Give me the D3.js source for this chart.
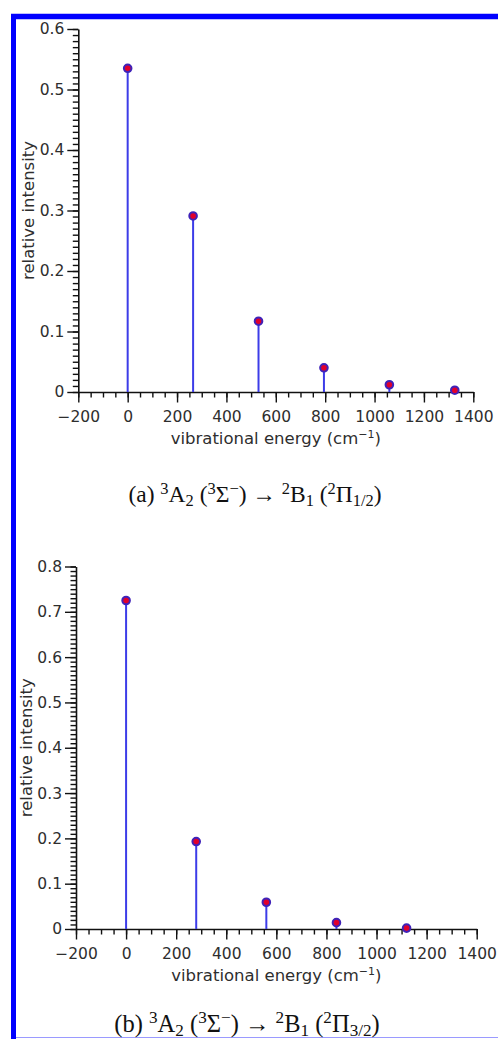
<!DOCTYPE html>
<html>
<head>
<meta charset="utf-8">
<script src="https://cdn.jsdelivr.net/npm/d3@7"></script>
<style>
  html, body { margin: 0; padding: 0; background: #fff; }
  svg { display: block; }
</style>
</head>
<body>
<svg id="chart"></svg>
<script>
const width = 498;
const height = 1039;

// data
const energiesA = [0, 265, 530, 795, 1060, 1325];
const intensA = [0.535, 0.291, 0.117, 0.040, 0.012, 0.003];
const energiesB = [0, 280, 560, 840, 1120];
const intensB = [0.725, 0.193, 0.059, 0.014, 0.002];

const xTicks = [-200, 0, 200, 400, 600, 800, 1000, 1200, 1400];
const yTicksA = [0, 0.1, 0.2, 0.3, 0.4, 0.5, 0.6];
const yTicksB = [0, 0.1, 0.2, 0.3, 0.4, 0.5, 0.6, 0.7, 0.8];

const xTitle = "vibrational energy (cm";
const yTitle = "relative intensity";
// caption pieces: 0 normal, 1 superscript, -1 subscript
const captionA = [["(a) ", 0], ["3", 1], ["A", 0], ["2", -1], [" (", 0], ["3", 1], ["Σ", 0], ["−", 1],
  [") → ", 0], ["2", 1], ["B", 0], ["1", -1], [" (", 0], ["2", 1], ["Π", 0], ["1/2", -1], [")", 0]];
const captionB = [["(b) ", 0], ["3", 1], ["A", 0], ["2", -1], [" (", 0], ["3", 1], ["Σ", 0], ["−", 1],
  [") → ", 0], ["2", 1], ["B", 0], ["1", -1], [" (", 0], ["2", 1], ["Π", 0], ["3/2", -1], [")", 0]];

const svg = d3.select("#chart")
  .attr("width", width)
  .attr("height", height)
  .attr("viewBox", `0 0 ${width} ${height}`);

// blue frame
svg.append("line").attr("x1", 11).attr("x2", width).attr("y1", 16.5).attr("y2", 16.5)
  .attr("stroke", "#0000ff").attr("stroke-width", 5.5);
svg.append("line").attr("x1", 13.5).attr("x2", 13.5).attr("y1", 14).attr("y2", height)
  .attr("stroke", "#0000ff").attr("stroke-width", 5);
svg.append("line").attr("x1", 16).attr("x2", width).attr("y1", 1037.5).attr("y2", 1037.5)
  .attr("stroke", "#9a9aff").attr("stroke-width", 1);

const yFmt = (d) => (d === 0 ? "0" : d3.format(".1f")(d));
const xFmt = d3.format("d");

function range(a, b, step) {
  const out = [];
  const n = Math.round((b - a) / step);
  for (let i = 0; i <= n; i++) out.push(+(a + i * step).toFixed(4));
  return out;
}

function drawPanel(p) {
  const x = d3.scaleLinear().domain([-200, 1400]).range([p.x0, p.x1]);
  const y = d3.scaleLinear().domain([0, p.yMax]).range([p.yBottom, p.yTop]);
  const g = svg.append("g");

  // minor ticks
  g.append("g")
    .attr("transform", `translate(0,${p.yBottom})`)
    .call(d3.axisBottom(x).tickValues(range(-200, 1400, 50)).tickSize(5.5).tickFormat("").tickSizeOuter(0))
    .call((a) => a.select(".domain").remove());
  g.append("g")
    .attr("transform", `translate(${p.x0},0)`)
    .call(d3.axisLeft(y).tickValues(range(0, p.yMax, 0.01)).tickSize(5.5).tickFormat("").tickSizeOuter(0))
    .call((a) => a.select(".domain").remove());

  // major ticks
  const xa = g.append("g")
    .attr("transform", `translate(0,${p.yBottom})`)
    .call(d3.axisBottom(x).tickValues(xTicks).tickFormat(xFmt).tickSize(10.5).tickPadding(0).tickSizeOuter(0));
  xa.selectAll("text").attr("dy", null).attr("y", 30);
  g.append("g")
    .attr("transform", `translate(${p.x0},0)`)
    .call(d3.axisLeft(y).tickValues(p.yTicks).tickFormat(yFmt).tickSize(11).tickPadding(3).tickSizeOuter(0));

  g.selectAll(".tick line").attr("stroke", "#111").attr("stroke-width", 1.4);
  g.selectAll(".domain").attr("stroke", "#111").attr("stroke-width", 1.6);
  g.selectAll(".tick text")
    .attr("fill", "#2e2e2e")
    .style("font", "15.5px 'DejaVu Sans'");

  // stems
  g.append("g")
    .selectAll("line")
    .data(p.energies)
    .join("line")
    .attr("x1", (d) => x(d))
    .attr("x2", (d) => x(d))
    .attr("y1", y(0))
    .attr("y2", (d, i) => y(p.values[i]))
    .attr("stroke", "#3c3ce8")
    .attr("stroke-width", 2);

  // markers
  g.append("g")
    .selectAll("circle")
    .data(p.energies)
    .join("circle")
    .attr("cx", (d) => x(d))
    .attr("cy", (d, i) => y(p.values[i]))
    .attr("r", 3.8)
    .attr("fill", "#e0002c")
    .attr("stroke", "#3f22b8")
    .attr("stroke-width", 2);

  // axis titles
  const xt = g.append("text")
    .attr("x", (p.x0 + p.x1) / 2)
    .attr("y", p.yBottom + 51.5)
    .attr("text-anchor", "middle")
    .attr("fill", "#2e2e2e")
    .style("font", "16.5px 'DejaVu Sans'");
  xt.append("tspan").text(xTitle);
  xt.append("tspan").attr("dy", -6).style("font-size", "11px").text("−1");
  xt.append("tspan").attr("dy", 6).text(")");

  g.append("text")
    .attr("transform", `translate(${p.titleX},${(p.yTop + p.yBottom) / 2}) rotate(-90)`)
    .attr("text-anchor", "middle")
    .attr("fill", "#2e2e2e")
    .style("font", "16.5px 'DejaVu Sans'")
    .text(yTitle);

  // caption
  const fs = p.capSize;
  const cap = g.append("text")
    .attr("x", p.capX)
    .attr("y", p.capY)
    .attr("text-anchor", "middle")
    .attr("fill", "#111")
    .style("font-family", "'Liberation Serif', serif")
    .style("font-size", fs + "px");
  let cur = 0;
  p.caption.forEach(([t, m]) => {
    const target = m === 1 ? -0.36 * fs : m === -1 ? 0.18 * fs : 0;
    cap.append("tspan")
      .attr("dy", target - cur)
      .style("font-size", (m === 0 ? fs : fs * 0.7) + "px")
      .text(t);
    cur = target;
  });
}

drawPanel({
  x0: 78.3, x1: 473.3, yTop: 29, yBottom: 392, yMax: 0.6,
  yTicks: yTicksA, energies: energiesA, values: intensA,
  titleX: 34, capX: 255, capY: 502, capSize: 23.5, caption: captionA
});

drawPanel({
  x0: 76, x1: 476.7, yTop: 566.5, yBottom: 929, yMax: 0.8,
  yTicks: yTicksB, energies: energiesB, values: intensB,
  titleX: 32, capX: 247, capY: 1032, capSize: 24.5, caption: captionB
});
</script>
</body>
</html>
